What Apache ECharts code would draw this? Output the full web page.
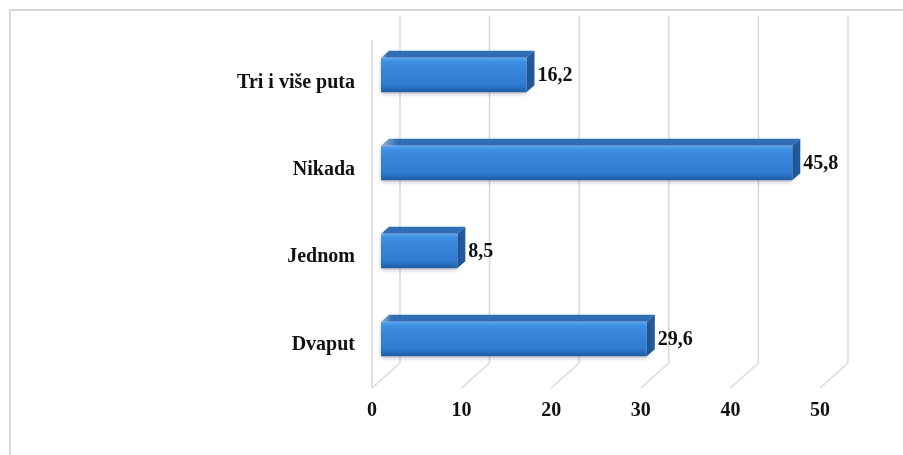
<!DOCTYPE html>
<html>
<head>
<meta charset="utf-8">
<script src="https://cdn.jsdelivr.net/npm/echarts@6/dist/echarts.min.js"></script>
<style>
    * { margin: 0; padding: 0; }
    html, body { width: 903px; height: 455px; background: #fff; overflow: hidden; }
    #chart { width: 903px; height: 455px; }
</style>
</head>
<body>
<div id="chart"></div>
<script>
    // kategorije, odozgo prema dolje
    const categories = ['Tri i više puta', 'Nikada', 'Jednom', 'Dvaput'];
    const values = [16.2, 45.8, 8.5, 29.6];
    const xTicks = [0, 10, 20, 30, 40, 50];

    const FONT = '"Liberation Serif", "Times New Roman", serif';
    // dubina 3D poda i stupaca
    const DEPTH_X = 28, DEPTH_Y = 25;
    const BAR_DX = 8, BAR_DY = 7;
    const GRID_COLOR = '#d9d9d9';

    // zid i pod (3D mreza)
    function wallItem(params, api) {
        const cs = params.coordSys;
        const v = api.value(0);
        const fx = api.coord([v, 0])[0];
        const fy = cs.y + cs.height;
        const bx = fx + DEPTH_X, by = fy - DEPTH_Y;
        const style = { stroke: GRID_COLOR, lineWidth: 1.5, fill: null };
        const children = [
            { type: 'line', shape: { x1: fx, y1: fy, x2: bx, y2: by }, style: style },
            { type: 'line', shape: { x1: bx, y1: by, x2: bx, y2: 16 }, style: style }
        ];
        if (v === 0) {
            children.push({ type: 'line', shape: { x1: fx, y1: fy, x2: fx, y2: 40 }, style: style });
        }
        return { type: 'group', children: children };
    }

    // 3D stupac: prednja strana, vrh i desna strana
    function barItem(params, api) {
        const i = api.value(1);
        const v = api.value(0);
        const start = api.coord([0, i]);
        const end = api.coord([v, i]);
        const h = api.size([0, 1])[1] * 0.39;
        const x0 = start[0], x1 = end[0];
        const y0 = end[1] - h / 2, y1 = end[1] + h / 2;
        const dx = BAR_DX, dy = BAR_DY;
        return {
            type: 'group',
            children: [
                {
                    type: 'polygon',
                    shape: { points: [[x0, y0], [x1, y0], [x1 + dx, y0 - dy], [x0 + dx, y0 - dy]] },
                    style: {
                        fill: new echarts.graphic.LinearGradient(0, 0, 1, 0, [
                            { offset: 0, color: '#9db4d0' },
                            { offset: 0.04, color: '#2f6db5' },
                            { offset: 1, color: '#2f6db5' }
                        ])
                    }
                },
                {
                    type: 'polygon',
                    shape: { points: [[x1, y0], [x1 + dx, y0 - dy], [x1 + dx, y1 - dy], [x1, y1]] },
                    style: { fill: '#22599b' }
                },
                {
                    type: 'rect',
                    shape: { x: x0, y: y0, width: x1 - x0, height: y1 - y0 },
                    style: {
                        fill: new echarts.graphic.LinearGradient(0, 0, 0, 1, [
                            { offset: 0, color: '#5aa6ef' },
                            { offset: 0.12, color: '#3d8de2' },
                            { offset: 0.8, color: '#2d79cf' },
                            { offset: 1, color: '#1f5ca3' }
                        ]),
                        shadowBlur: 4,
                        shadowOffsetY: 2,
                        shadowColor: 'rgba(0,0,0,0.25)'
                    }
                },
                {
                    type: 'text',
                    x: x1 + dx + 3,
                    y: (y0 + y1) / 2 + 1,
                    style: {
                        text: String(v).replace('.', ','),
                        fontFamily: FONT,
                        fontWeight: 'bold',
                        fontSize: 20,
                        fill: '#111',
                        align: 'left',
                        verticalAlign: 'middle'
                    }
                }
            ]
        };
    }

    const labelStyle = {
        fontFamily: FONT,
        fontWeight: 'bold',
        fontSize: 20,
        color: '#111'
    };

    const option = {
        animation: false,
        backgroundColor: '#fff',
        graphic: [{
            type: 'rect',
            shape: { x: 10, y: 10, width: 900, height: 450 },
            style: { fill: 'none', stroke: GRID_COLOR, lineWidth: 2 },
            z: 0
        }],
        grid: [
            { left: 372, top: 39, width: 448, height: 349 },
            { left: 381, top: 31, width: 449, height: 352 }
        ],
        xAxis: [
            {
                gridIndex: 0, type: 'value', min: 0, max: 50, interval: 10,
                axisLine: { show: false }, axisTick: { show: false }, splitLine: { show: false },
                axisLabel: Object.assign({ margin: 13 }, labelStyle)
            },
            {
                gridIndex: 1, type: 'value', min: 0, max: 50, interval: 10, show: false,
                splitLine: { show: false }
            }
        ],
        yAxis: [
            {
                gridIndex: 0, type: 'category', data: categories, inverse: true,
                axisLine: { show: false }, axisTick: { show: false }, splitLine: { show: false },
                axisLabel: Object.assign({ margin: 17 }, labelStyle)
            },
            {
                gridIndex: 1, type: 'category', data: categories, inverse: true, show: false
            }
        ],
        series: [
            {
                type: 'custom',
                xAxisIndex: 0, yAxisIndex: 0,
                renderItem: wallItem,
                data: xTicks.map(v => [v, 0]),
                encode: { x: 0, y: 1 },
                silent: true,
                z: 1
            },
            {
                type: 'custom',
                xAxisIndex: 1, yAxisIndex: 1,
                renderItem: barItem,
                data: values.map((v, i) => [v, i]),
                encode: { x: 0, y: 1 },
                silent: true,
                z: 2
            }
        ]
    };

    const myChart = echarts.init(document.getElementById('chart'));
    myChart.setOption(option);
</script>
</body>
</html>
